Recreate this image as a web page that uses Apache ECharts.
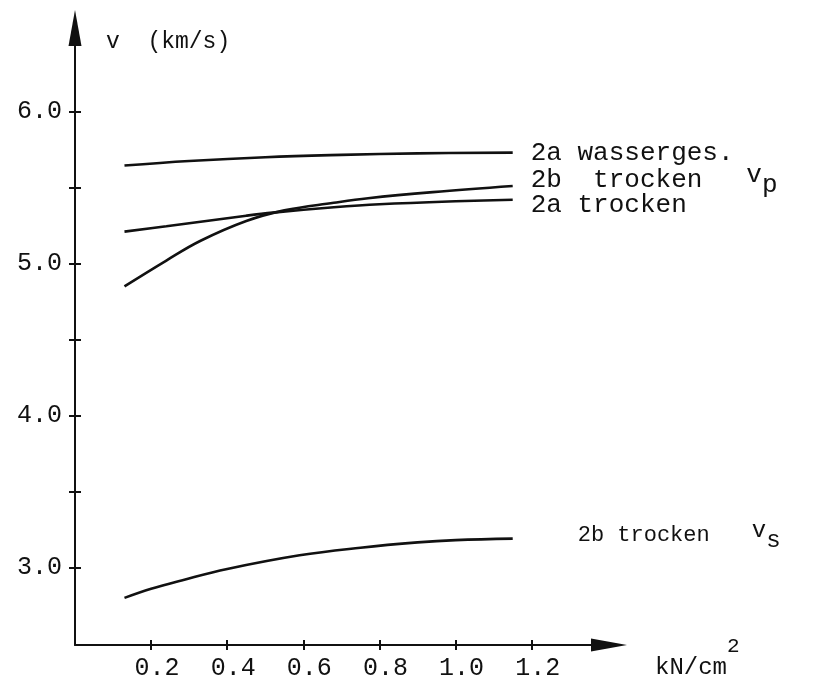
<!DOCTYPE html>
<html>
<head>
<meta charset="utf-8">
<script src="https://cdn.jsdelivr.net/npm/echarts@6/dist/echarts.min.js"></script>
<style>
html,body{margin:0;padding:0;background:#fff;}
#c{width:819px;height:685px;}
</style>
</head>
<body>
<div id="c"></div>
<script>
// ---- data ----
const xTicks = [0.2, 0.4, 0.6, 0.8, 1.0, 1.2];
const yLabelTicks = [3.0, 4.0, 5.0, 6.0];
const yTicks = [3.0, 3.5, 4.0, 4.5, 5.0, 5.5, 6.0];

const wassX = [0.13, 0.3, 0.5, 0.7, 0.9, 1.15];
const wassY = [5.645, 5.675, 5.70, 5.715, 5.725, 5.73];

const tro2aX = [0.13, 0.24, 0.33, 0.45, 0.52, 0.68, 0.8, 1.0, 1.15];
const tro2aY = [5.21, 5.245, 5.275, 5.315, 5.335, 5.37, 5.39, 5.41, 5.42];

const tro2bX = [0.13, 0.24, 0.33, 0.45, 0.55, 0.68, 0.77, 0.94, 1.15];
const tro2bY = [4.85, 5.02, 5.15, 5.28, 5.35, 5.40, 5.43, 5.47, 5.51];

const vsX = [0.13, 0.2, 0.28, 0.4, 0.59, 0.75, 0.9, 1.0, 1.15];
const vsY = [2.80, 2.86, 2.915, 2.99, 3.08, 3.13, 3.165, 3.18, 3.19];

const pair = (xs, ys) => xs.map((x, i) => [x, ys[i]]);

const FONT = 'Liberation Mono';
const INK = '#111';

const chart = echarts.init(document.getElementById('c'));

function lineSeries(name, xs, ys, label) {
  return {
    name: name,
    type: 'line',
    xAxisIndex: 0,
    yAxisIndex: 0,
    smooth: 0.4,
    symbol: 'none',
    silent: true,
    lineStyle: {color: INK, width: 2.6},
    data: pair(xs, ys),
    endLabel: Object.assign({show: true, color: INK, fontFamily: FONT}, label)
  };
}

chart.setOption({
  animation: false,
  backgroundColor: '#fff',
  grid: {left: 75, right: 210, top: 28, bottom: 40},
  xAxis: [
    {
      type: 'value', min: 0, max: 1.403,
      splitLine: {show: false},
      axisLine: {show: true, symbol: ['none', 'triangle'], symbolSize: [13, 36],
        lineStyle: {color: INK, width: 2}},
      axisTick: {show: true, customValues: xTicks, length: 5, lineStyle: {color: INK, width: 2}},
      axisLabel: {show: true, customValues: xTicks, margin: 11, color: INK,
        fontFamily: FONT, fontSize: 25, padding: [0, 0, 0, 12],
        formatter: v => v.toFixed(1)}
    },
    {
      type: 'value', min: 0, max: 1.403, position: 'bottom',
      splitLine: {show: false},
      axisLine: {show: false},
      axisTick: {show: true, inside: true, customValues: xTicks, length: 5, lineStyle: {color: INK, width: 2}},
      axisLabel: {show: false}
    }
  ],
  yAxis: [
    {
      type: 'value', min: 2.49, max: 6.55, position: 'left',
      splitLine: {show: false},
      axisLine: {show: true, symbol: ['none', 'triangle'], symbolSize: [13, 36],
        lineStyle: {color: INK, width: 2}},
      axisTick: {show: true, customValues: yTicks, length: 6, lineStyle: {color: INK, width: 2}},
      axisLabel: {show: true, customValues: yLabelTicks, margin: 13, color: INK,
        fontFamily: FONT, fontSize: 25, formatter: v => v.toFixed(1)}
    },
    {
      type: 'value', min: 2.49, max: 6.55, position: 'left',
      splitLine: {show: false},
      axisLine: {show: false},
      axisTick: {show: true, inside: true, customValues: yTicks, length: 6, lineStyle: {color: INK, width: 2}},
      axisLabel: {show: false}
    }
  ],
  graphic: [
    {type: 'text', left: 106, top: 30,
      style: {text: 'v  (km/s)', font: '23px "Liberation Mono"', fill: INK}},
    {type: 'text', left: 655, top: 636,
      style: {text: '{b|kN/cm}{s|2}', fill: INK,
        rich: {
          b: {font: '24px "Liberation Mono"', fill: INK, verticalAlign: 'bottom', lineHeight: 44},
          s: {font: '21px "Liberation Mono"', fill: INK, verticalAlign: 'top', lineHeight: 44}
        }}}
  ],
  series: [
    lineSeries('2a wasserges.', wassX, wassY,
      {formatter: '2a wasserges.', fontSize: 26, distance: 18, offset: [0, 0]}),
    lineSeries('2b trocken vp', tro2bX, tro2bY,
      {formatter: '{t|2b  trocken}{g| }{v|v}{p|p}', distance: 18, offset: [0, -6],
        rich: {
          t: {fontFamily: FONT, fontSize: 26, color: INK, lineHeight: 36, verticalAlign: 'middle'},
          g: {fontFamily: FONT, fontSize: 26, color: INK, width: 44},
          v: {fontFamily: FONT, fontSize: 26, color: INK, lineHeight: 36, verticalAlign: 'top'},
          p: {fontFamily: FONT, fontSize: 26, color: INK, lineHeight: 36, verticalAlign: 'bottom'}
        }}),
    lineSeries('2a trocken', tro2aX, tro2aY,
      {formatter: '2a trocken', fontSize: 26, distance: 18, offset: [0, 5]}),
    lineSeries('2b trocken vs', vsX, vsY,
      {formatter: '{t|2b trocken}{g| }{v|v}{s|s}', distance: 65, offset: [0, -3],
        rich: {
          t: {fontFamily: FONT, fontSize: 22, color: INK, lineHeight: 34, verticalAlign: 'middle'},
          g: {fontFamily: FONT, fontSize: 22, color: INK, width: 42},
          v: {fontFamily: FONT, fontSize: 24, color: INK, lineHeight: 34, verticalAlign: 'top'},
          s: {fontFamily: FONT, fontSize: 24, color: INK, lineHeight: 34, verticalAlign: 'bottom'}
        }})
  ]
});
</script>
</body>
</html>
